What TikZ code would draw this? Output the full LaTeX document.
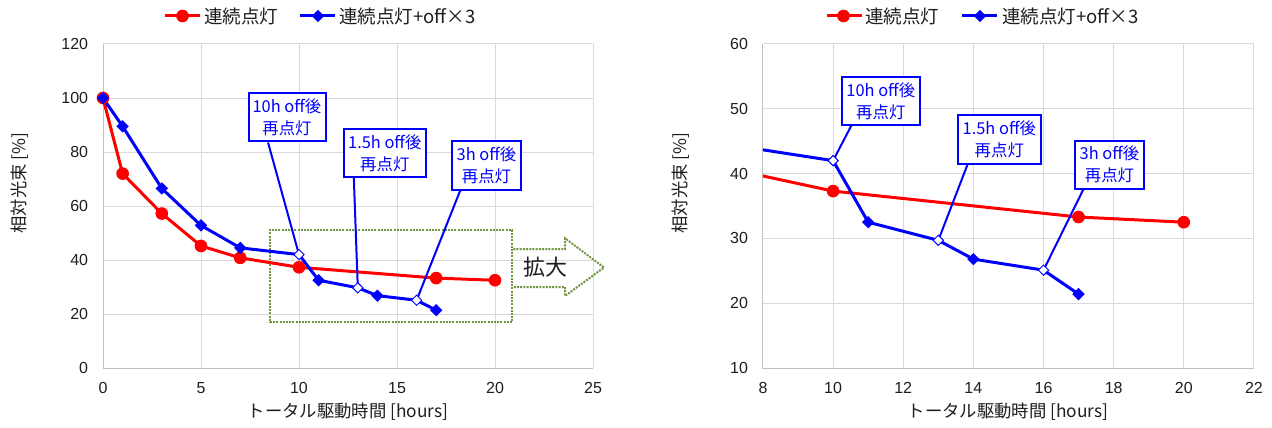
\documentclass[tikz,border=0pt]{standalone}
\usepackage{fontspec}
\setmainfont{Liberation Sans}
\newfontfamily\jp{Noto Sans CJK JP}
\usetikzlibrary{shapes.geometric,calc}
\definecolor{gridc}{RGB}{217,217,217}
\definecolor{axisc}{RGB}{191,191,191}
\definecolor{myred}{RGB}{255,0,0}
\definecolor{myblue}{RGB}{0,0,255}
\definecolor{olivec}{RGB}{112,148,64}
\definecolor{txt}{RGB}{30,30,30}
\begin{document}
\begin{tikzpicture}[x=0.75pt,y=-0.75pt,
  gridl/.style={draw=gridc, line width=0.75pt},
  axisl/.style={draw=axisc, line width=0.75pt},
  rline/.style={draw=myred, line width=2.25pt, line join=round},
  bline/.style={draw=myblue, line width=2.25pt, line join=round},
  rdot/.style={circle, fill=myred, inner sep=0pt, minimum size=9.5pt},
  bdia/.style={diamond, fill=myblue, inner sep=0pt, minimum size=9.5pt, aspect=1},
  odia/.style={diamond, draw=myblue, fill=white, line width=0.75pt, inner sep=0pt, minimum size=8pt, aspect=1},
  ticklab/.style={font=\fontsize{12}{14}\selectfont, text=txt, inner sep=0pt},
  axtitle/.style={font=\jp\fontsize{13}{15}\selectfont, text=txt, inner sep=0pt},
  callout/.style={draw=myblue, line width=1.5pt, fill=white, text=myblue, align=center,
    font=\jp\fontsize{12.3}{16.5}\selectfont, minimum height=36pt, inner sep=1pt},
  pointer/.style={draw=myblue, line width=1.5pt},
  zoombox/.style={draw=olivec, line width=1.5pt, dash pattern=on 1.5pt off 0.9pt},
  legtext/.style={font=\jp\fontsize{13.9}{15}\selectfont, text=txt, anchor=west, inner sep=0pt}
]
\useasboundingbox (0,0) rectangle (1272,428);
\fill[white] (0,0) rectangle (1272,428);

% ================= LEFT CHART =================
\begin{scope}[shift={(103,368)}, x=14.7pt, y=2.025pt]
  \foreach \i in {5,10,...,25} \draw[gridl] (\i,0) -- (\i,120);
  \foreach \j in {20,40,...,120} \draw[gridl] (0,\j) -- (25,\j);
  \draw[axisl] (0,120) -- (0,0) -- (25,0);
  \foreach \j in {0,20,...,120} \node[ticklab, anchor=east, xshift=-11pt] (ly\j) at (0,\j) {\j};
  \foreach \i in {0,5,...,25} \node[ticklab, yshift=-15pt] (lx\i) at (\i,0) {\i};

  \coordinate (lr0) at (0,100);
  \coordinate (lr1) at (1,72);
  \coordinate (lr3) at (3,57.2);
  \coordinate (lr5) at (5,45.2);
  \coordinate (lr7) at (7,40.8);
  \coordinate (lr10) at (10,37.3);
  \coordinate (lr17) at (17,33.3);
  \coordinate (lr20) at (20,32.5);

  \coordinate (lb0) at (0,100);
  \coordinate (lb1) at (1,89.5);
  \coordinate (lb3) at (3,66.5);
  \coordinate (lb5) at (5,52.8);
  \coordinate (lb7) at (7,44.5);
  \coordinate (lb10) at (10,42);
  \coordinate (lb11) at (11,32.5);
  \coordinate (lb13) at (13,29.7);
  \coordinate (lb14) at (14,26.8);
  \coordinate (lb16) at (16,25.1);
  \coordinate (lb17) at (17,21.4);
\end{scope}

\node[axtitle, rotate=90] (lyt) at (20,183) {相対光束 [\%]};
\node[axtitle] (lxt) at (348,412) {トータル駆動時間 [hours]};

% zoom box and arrow
\node[zoombox, minimum width=181.7pt, minimum height=69.2pt, inner sep=0pt] (zb) at (391.15,276.15) {};
\draw[zoombox] (zb.east |- 0,249) -- (565,249) -- (565,238.3) -- (604,267.5) -- (565,296) -- (565,287) -- (zb.east |- 0,287);
\node[font=\jp\fontsize{16.5}{18}\selectfont, text=txt, inner sep=0pt] (kakudai) at (545,267.5) {拡大};

\draw[rline] (lr0) -- (lr1) -- (lr3) -- (lr5) -- (lr7) -- (lr10) -- (lr17) -- (lr20);
\draw[bline] (lb0) -- (lb1) -- (lb3) -- (lb5) -- (lb7) -- (lb10) -- (lb11) -- (lb13) -- (lb14) -- (lb16) -- (lb17);

\node[callout, minimum width=57.75pt] (L1) at (287,117.5) {10h off後\\再点灯};
\node[callout, minimum width=61.3pt] (L2) at (384.8,152.8) {1.5h off後\\再点灯};
\node[callout, minimum width=51.75pt] (L3) at (486.5,165.5) {3h off後\\再点灯};
\draw[pointer] ($(L1.south west)!0.26!(L1.south east)$) -- (lb10);
\draw[pointer] ($(L2.south west)!0.13!(L2.south east)$) -- (lb13);
\draw[pointer] ($(L3.south west)!0.13!(L3.south east)$) -- (lb16);

\foreach \p in {lr0,lr1,lr3,lr5,lr7,lr10,lr17,lr20} \node[rdot] (m\p) at (\p) {};
\foreach \p in {lb0,lb1,lb3,lb5,lb7,lb11,lb14,lb17} \node[bdia] (m\p) at (\p) {};
\foreach \p in {lb10,lb13,lb16} \node[odia] (m\p) at (\p) {};

% legend left
\coordinate (lgr1) at (165,16); \coordinate (lgr2) at (200,16);
\draw[rline] (lgr1) -- (lgr2);
\node[rdot] (lgrm) at (182.5,16) {};
\node[legtext] (lgrt) at (204,16) {連続点灯};
\coordinate (lgb1) at (300,16); \coordinate (lgb2) at (335,16);
\draw[bline] (lgb1) -- (lgb2);
\node[bdia] (lgbm) at (318,16) {};
\node[legtext] (lgbt) at (339,16) {連続点灯+off×3};

% ================= RIGHT CHART =================
\begin{scope}[shift={(482.44,432.8)}, x=26.3pt, y=4.86pt]
  \foreach \i in {10,12,...,22} \draw[gridl] (\i,10) -- (\i,60);
  \foreach \j in {20,30,...,60} \draw[gridl] (8,\j) -- (22,\j);
  \draw[axisl] (8,60) -- (8,10) -- (22,10);
  \foreach \j in {10,20,...,60} \node[ticklab, anchor=east, xshift=-11pt] (ry\j) at (8,\j) {\j};
  \foreach \i in {8,10,...,22} \node[ticklab, yshift=-15pt] (rx\i) at (\i,10) {\i};

  \coordinate (rr7) at (7,40.8);
  \coordinate (rr10) at (10,37.3);
  \coordinate (rr17) at (17,33.3);
  \coordinate (rr20) at (20,32.5);

  \coordinate (rb7) at (7,44.5);
  \coordinate (rb10) at (10,42);
  \coordinate (rb11) at (11,32.5);
  \coordinate (rb13) at (13,29.7);
  \coordinate (rb14) at (14,26.8);
  \coordinate (rb16) at (16,25.1);
  \coordinate (rb17) at (17,21.4);

  \begin{scope}
    \clip (8,10) rectangle (22,60);
    \draw[rline] (rr7) -- (rr10) -- (rr17) -- (rr20);
    \draw[bline] (rb7) -- (rb10) -- (rb11) -- (rb13) -- (rb14) -- (rb16) -- (rb17);
  \end{scope}
\end{scope}

\node[axtitle, rotate=90] (ryt) at (681,183) {相対光束 [\%]};
\node[axtitle] (rxt) at (1008,412) {トータル駆動時間 [hours]};

\node[callout, minimum width=58.5pt] (R1) at (880.8,100.8) {10h off後\\再点灯};
\node[callout, minimum width=62pt] (R2) at (999.3,139.5) {1.5h off後\\再点灯};
\node[callout, minimum width=51.75pt] (R3) at (1109.5,164.7) {3h off後\\再点灯};
\draw[pointer] ($(R1.south west)!0.13!(R1.south east)$) -- (rb10);
\draw[pointer] ($(R2.south west)!0.125!(R2.south east)$) -- (rb13);
\draw[pointer] ($(R3.south west)!0.13!(R3.south east)$) -- (rb16);

\foreach \p in {rr10,rr17,rr20} \node[rdot] (m\p) at (\p) {};
\foreach \p in {rb11,rb14,rb17} \node[bdia] (m\p) at (\p) {};
\foreach \p in {rb10,rb13,rb16} \node[odia] (m\p) at (\p) {};

% legend right
\coordinate (rgr1) at (827,16); \coordinate (rgr2) at (862,16);
\draw[rline] (rgr1) -- (rgr2);
\node[rdot] (rgrm) at (843.5,16) {};
\node[legtext] (rgrt) at (865,16) {連続点灯};
\coordinate (rgb1) at (962,16); \coordinate (rgb2) at (997,16);
\draw[bline] (rgb1) -- (rgb2);
\node[bdia] (rgbm) at (980,16) {};
\node[legtext] (rgbt) at (1002,16) {連続点灯+off×3};
\end{tikzpicture}
\end{document}
